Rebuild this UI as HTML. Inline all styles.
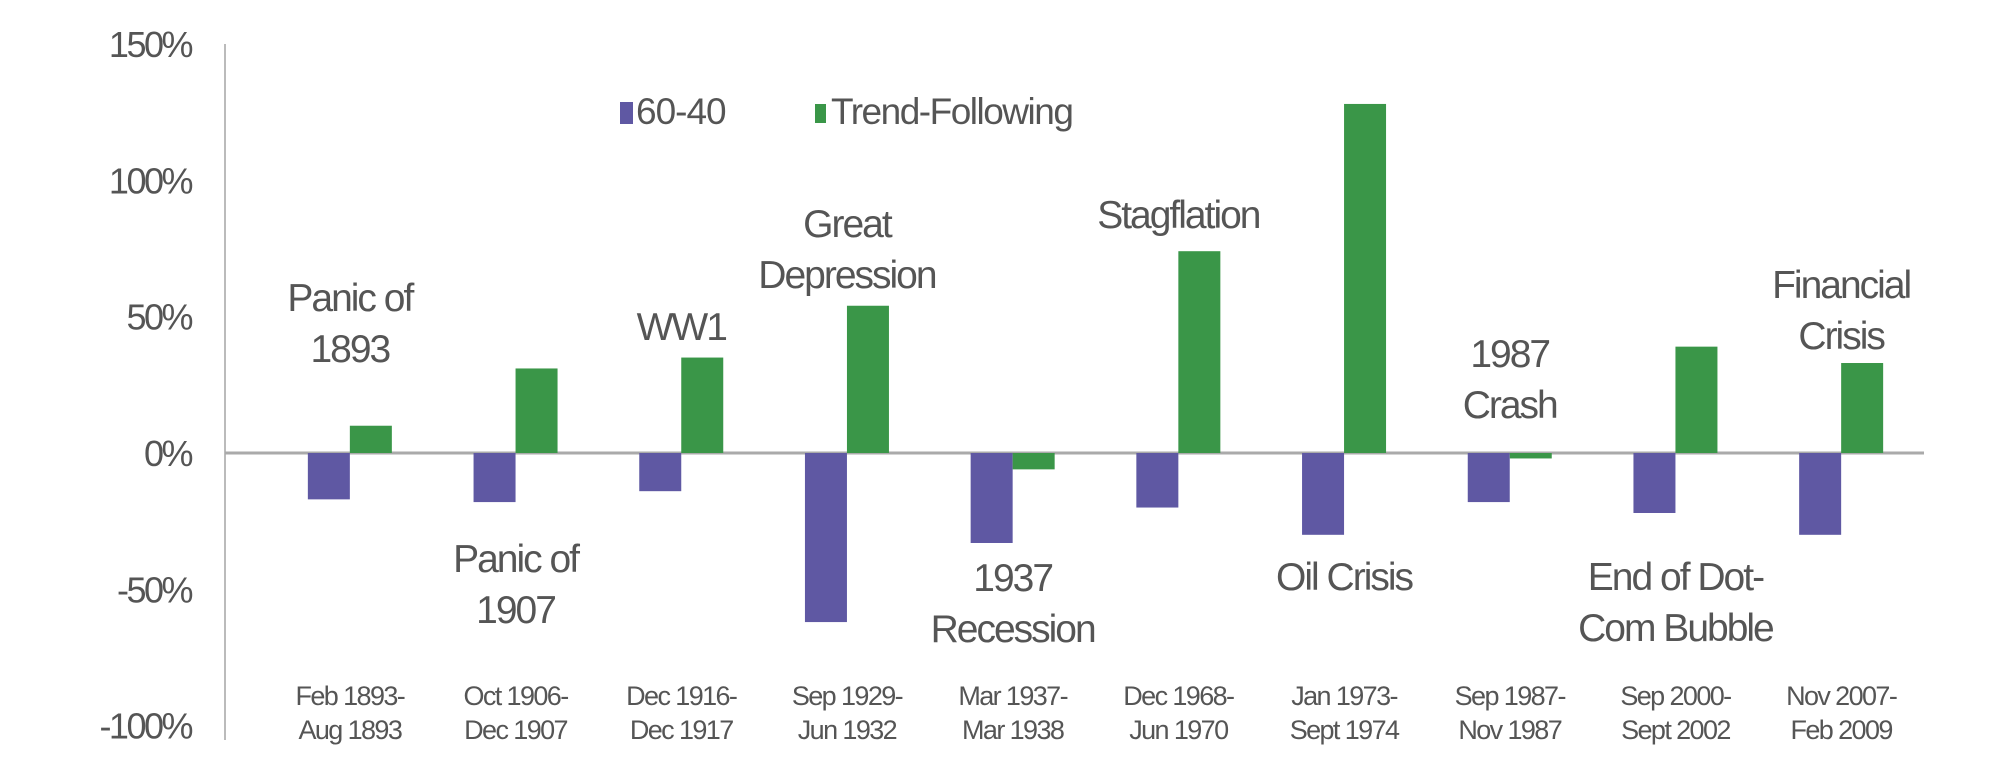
<!DOCTYPE html>
<html><head><meta charset="utf-8">
<style>
body{margin:0;background:#fff;}
svg text{font-family:"Liberation Sans",sans-serif;fill:#555;}
</style></head>
<body>
<svg id="chart" width="1998" height="776" viewBox="0 0 1998 776" xmlns="http://www.w3.org/2000/svg">
<rect width="1998" height="776" fill="#fff"/>
<g id="axes"></g>
<g id="bars"></g>
<g id="labels"></g>
<g>
  <rect x="620" y="102" width="13" height="22" fill="#5f58a3"/>
  <text x="636" y="124" font-size="37" letter-spacing="-1">60-40</text>
  <rect x="815" y="104" width="11" height="19" fill="#3a9648"/>
  <text x="831" y="124" font-size="37" letter-spacing="-1.5">Trend-Following</text>
</g>
</svg>
<script>
const categories = [["Feb 1893-","Aug 1893"],["Oct 1906-","Dec 1907"],["Dec 1916-","Dec 1917"],["Sep 1929-","Jun 1932"],["Mar 1937-","Mar 1938"],["Dec 1968-","Jun 1970"],["Jan 1973-","Sept 1974"],["Sep 1987-","Nov 1987"],["Sep 2000-","Sept 2002"],["Nov 2007-","Feb 2009"]];
const series6040 = [-17,-18,-14,-62,-33,-20,-30,-18,-22,-30];
const seriesTrend = [10,31,35,54,-6,74,128,-2,39,33];
const tickValues = [150,100,50,0,-50,-100];
const events = [["Panic of","1893"],["Panic of","1907"],["WW1"],["Great","Depression"],["1937","Recession"],["Stagflation"],["Oil Crisis"],["1987","Crash"],["End of Dot-","Com Bubble"],["Financial","Crisis"]];
const eventBaseline = [311,572,340,237,591,228,590,367,590,298];

const NS="http://www.w3.org/2000/svg";
const x0=267, bandW=165.7, barW=42;
const y=v=>453-v*2.727;
const bx=i=>x0+bandW*(i+0.5);
function mk(tag,attrs,parent){const e=document.createElementNS(NS,tag);for(const k in attrs)e.setAttribute(k,attrs[k]);parent.appendChild(e);return e;}
const axes=document.getElementById('axes'),bars=document.getElementById('bars'),labels=document.getElementById('labels');

let a=mk('line',{x1:225,y1:44,x2:225,y2:740,stroke:'#bbb','stroke-width':2},axes);


let z=mk('line',{x1:225,y1:y(0),x2:1924,y2:y(0),stroke:'#aaa','stroke-width':3},axes);


tickValues.forEach(v=>{
  const t=mk('text',{x:191,y:y(v)+13,'font-size':36,'text-anchor':'end','letter-spacing':-2.5},axes);
  t.textContent=v+'%';
  
  
});
categories.forEach((c,i)=>{
  const cx=bx(i);
  const v1=series6040[i], v2=seriesTrend[i];
  const r1=mk('rect',{x:cx-barW,y:Math.min(y(0),y(v1)),width:barW,height:Math.abs(y(v1)-y(0)),fill:'#5f58a3'},bars);
  
  
  const r2=mk('rect',{x:cx,y:Math.min(y(0),y(v2)),width:barW,height:Math.abs(y(v2)-y(0)),fill:'#3a9648'},bars);
  
  
  c.forEach((line,j)=>{
    const t=mk('text',{x:cx,y:705+j*34,'font-size':27,'text-anchor':'middle','letter-spacing':-1.6},labels);
    t.textContent=line;
    
    
  });
  events[i].forEach((line,j)=>{
    const t=mk('text',{x:cx,y:eventBaseline[i]+j*51,'font-size':39,'text-anchor':'middle','letter-spacing':-2},labels);
    t.textContent=line;
    
    
  });
});
</script>
</body></html>
